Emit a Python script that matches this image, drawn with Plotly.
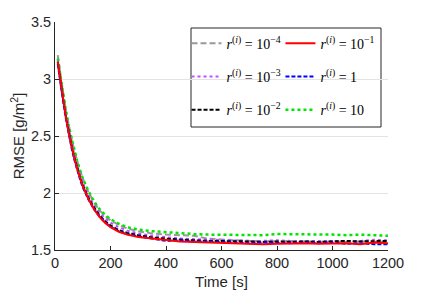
import plotly.graph_objects as go

T = [10, 20, 30, 40, 50, 60, 70, 80, 90, 100, 120, 140, 160, 180, 200, 230, 260, 300,
     350, 400, 450, 500, 550, 600, 650, 700, 750, 800, 850, 900, 950, 1000, 1050, 1100, 1150, 1200]

r_1e4 = [3.21, 3.03, 2.87, 2.72, 2.59, 2.47, 2.37, 2.28, 2.20, 2.13, 2.01, 1.92, 1.85, 1.80, 1.76, 1.72, 1.69, 1.665,
         1.645, 1.635, 1.63, 1.625, 1.60, 1.59, 1.585, 1.58, 1.575, 1.575, 1.58, 1.575, 1.57, 1.575, 1.57, 1.575, 1.57, 1.57]
r_1e1 = [3.15, 2.97, 2.80, 2.65, 2.52, 2.40, 2.30, 2.21, 2.13, 2.06, 1.95, 1.86, 1.79, 1.74, 1.70, 1.66, 1.635, 1.615,
         1.60, 1.585, 1.575, 1.57, 1.565, 1.56, 1.555, 1.55, 1.55, 1.555, 1.56, 1.56, 1.555, 1.56, 1.56, 1.55, 1.565, 1.56]
r_1e3 = [3.16, 2.98, 2.82, 2.67, 2.55, 2.43, 2.33, 2.24, 2.16, 2.09, 1.98, 1.895, 1.83, 1.78, 1.74, 1.70, 1.67, 1.645,
         1.625, 1.61, 1.60, 1.595, 1.59, 1.585, 1.585, 1.58, 1.58, 1.585, 1.58, 1.58, 1.585, 1.58, 1.585, 1.58, 1.59, 1.585]
r_1 = [3.13, 2.95, 2.79, 2.64, 2.51, 2.39, 2.29, 2.20, 2.12, 2.05, 1.945, 1.86, 1.795, 1.745, 1.705, 1.665, 1.64, 1.62,
       1.60, 1.58, 1.585, 1.575, 1.575, 1.57, 1.565, 1.56, 1.565, 1.56, 1.56, 1.565, 1.56, 1.565, 1.555, 1.56, 1.55, 1.55]
r_1e2 = [3.15, 2.97, 2.81, 2.66, 2.53, 2.41, 2.31, 2.22, 2.14, 2.07, 1.96, 1.875, 1.805, 1.755, 1.715, 1.675, 1.65, 1.63,
         1.61, 1.60, 1.59, 1.585, 1.58, 1.58, 1.575, 1.575, 1.57, 1.575, 1.57, 1.575, 1.57, 1.575, 1.58, 1.575, 1.58, 1.58]
r_10 = [3.18, 3.01, 2.85, 2.71, 2.58, 2.47, 2.37, 2.28, 2.20, 2.13, 2.02, 1.93, 1.86, 1.81, 1.77, 1.73, 1.70, 1.68,
        1.665, 1.655, 1.645, 1.64, 1.635, 1.635, 1.63, 1.635, 1.63, 1.64, 1.64, 1.635, 1.64, 1.635, 1.63, 1.635, 1.63, 1.625]

names = ["<i>r</i><sup>(<i>i</i>)</sup> = 10<sup>−4</sup>",
         "<i>r</i><sup>(<i>i</i>)</sup> = 10<sup>−1</sup>",
         "<i>r</i><sup>(<i>i</i>)</sup> = 10<sup>−3</sup>",
         "<i>r</i><sup>(<i>i</i>)</sup> = 1",
         "<i>r</i><sup>(<i>i</i>)</sup> = 10<sup>−2</sup>",
         "<i>r</i><sup>(<i>i</i>)</sup> = 10"]
series = [r_1e4, r_1e1, r_1e3, r_1, r_1e2, r_10]
colors = ["#999999", "#ff0000", "#c050ff", "#0000ff", "#000000", "#00e600"]
dashes = ["6px,3px", "solid", "dot", "4px,2px", "4px,2px", "dot"]
widths = [2, 2, 2, 2, 2, 2.5]
legends = ["legend", "legend2", "legend", "legend2", "legend", "legend2"]

fig = go.Figure()
draw_order = [0, 5, 2, 4, 3, 1]
for i in draw_order:
    fig.add_trace(go.Scatter(x=T, y=series[i], mode="lines", name=names[i],
                             line=dict(color=colors[i], dash=dashes[i], width=widths[i]),
                             legend=legends[i], legendgroup=str(i), legendrank=i))

tick_font = dict(family="Liberation Sans, Arial, sans-serif", size=14.5, color="#262626")
title_font = dict(family="Liberation Sans, Arial, sans-serif", size=15, color="#262626")
leg_common = dict(font=dict(family="Liberation Serif, DejaVu Serif, serif", size=14, color="#000"),
                  bgcolor="rgba(0,0,0,0)", borderwidth=0, tracegroupgap=12, itemwidth=30,
                  xanchor="left", yanchor="top", traceorder="grouped")

fig.update_layout(
    width=427, height=294,
    margin=dict(l=55, r=39, t=22, b=44),
    paper_bgcolor="white", plot_bgcolor="white",
    showlegend=True,
    legend=dict(x=0.395, y=0.975, **leg_common),
    legend2=dict(x=0.677, y=0.975, **leg_common),
    xaxis=dict(range=[0, 1200], tickvals=[0, 200, 400, 600, 800, 1000, 1200],
               ticks="inside", ticklen=4, tickcolor="#262626", showgrid=False,
               showline=True, linecolor="#262626", linewidth=1, zeroline=False, automargin=False,
               tickfont=tick_font, title=dict(text="Time [s]", font=title_font, standoff=6)),
    yaxis=dict(range=[1.5, 3.5], tickvals=[1.5, 2, 2.5, 3, 3.5], ticktext=["1.5", "2", "2.5", "3", "3.5"],
               ticks="inside", ticklen=4, tickcolor="#262626", showgrid=True, gridcolor="#e3e3e3",
               showline=True, linecolor="#262626", linewidth=1, zeroline=False, automargin=False,
               tickfont=tick_font, title=dict(text="RMSE [g/m<sup>2</sup>]", font=title_font, standoff=2)),
    shapes=[dict(type="rect", xref="paper", yref="paper",
                 x0=(191 - 55) / 333, x1=(381 - 55) / 333,
                 y0=1 - (127 - 22) / 228, y1=1 - (28 - 22) / 228,
                 line=dict(color="#262626", width=1), fillcolor="white", layer="between")],
)

fig.write_html("out.html", config={"displayModeBar": False},
               post_script="document.body.style.margin='0';document.body.style.padding='0';")
